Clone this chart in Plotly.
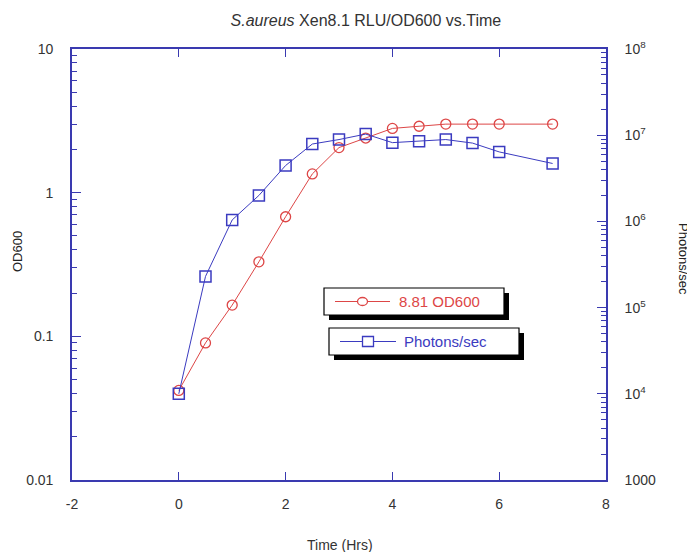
import plotly.graph_objects as go

# data
time_hrs = [0, 0.5, 1, 1.5, 2, 2.5, 3, 3.5, 4, 4.5, 5, 5.5, 6, 7]
od600 = [0.042, 0.09, 0.165, 0.33, 0.68, 1.35, 2.06, 2.4, 2.8, 2.9, 3.0, 3.0, 3.0, 3.0]
photons = [1.0e4, 2.3e5, 1.04e6, 2.0e6, 4.45e6, 7.9e6, 8.9e6, 1.03e7,
           8.2e6, 8.5e6, 8.9e6, 8.1e6, 6.4e6, 4.7e6]

x_ticks = [-2, 0, 2, 4, 6, 8]
x_ticktext = ["-2", "0", "2", "4", "6", "8"]
od_ticks = [0.01, 0.1, 1, 10]
od_ticktext = ["0.01", "0.1", "1", "10"]
ph_ticks = [1e3, 1e4, 1e5, 1e6, 1e7, 1e8]
ph_ticktext = ["1000", "10<sup>4</sup>", "10<sup>5</sup>", "10<sup>6</sup>",
               "10<sup>7</sup>", "10<sup>8</sup>"]

od_minor = [m * d for d in [0.01, 0.1, 1] for m in range(2, 10)]
ph_minor = [m * d for d in [1e3, 1e4, 1e5, 1e6, 1e7] for m in range(2, 10)]

RED = "#dd4646"
BLUE = "#3b3bc0"
AXIS = "#3a3ab0"
FONT = "Liberation Sans, Arial, sans-serif"

# page offset from the default body margin
O = 8
W, H = 695, 552
L, T = 64, 41
PW, PH = 534, 431
R, B = W - L - PW, H - T - PH


def fx(px):
    return (px - O - L) / PW


def fy(py):
    return (T + PH - (py - O)) / PH


fig = go.Figure()
fig.add_trace(go.Scatter(x=time_hrs, y=od600, mode="lines+markers", name="8.81 OD600",
                         line=dict(color=RED, width=1),
                         marker=dict(symbol="circle-open", size=10, color=RED, line=dict(width=1.3)),
                         yaxis="y"))
fig.add_trace(go.Scatter(x=time_hrs, y=photons, mode="lines+markers", name="Photons/sec",
                         line=dict(color=BLUE, width=1),
                         marker=dict(symbol="square-open", size=11, color=BLUE, line=dict(width=1.5)),
                         yaxis="y2"))

tick_font = dict(family=FONT, size=14, color="#333333")

fig.update_layout(
    width=W, height=H,
    margin=dict(l=L, r=R, t=T, b=B),
    paper_bgcolor="white", plot_bgcolor="white",
    showlegend=False,
    font=dict(family=FONT, color="#333333"),
    title=dict(text="<i>S.aureus</i> Xen8.1 RLU/OD600 vs.Time",
               x=fx(347), xanchor="center", y=1 - (20 - O) / H, yanchor="middle",
               font=dict(family=FONT, size=16, color="#333333")),
    xaxis=dict(range=[-2, 8], tickvals=x_ticks, ticktext=x_ticktext, ticks="inside", ticklen=8,
               tickwidth=1.2, tickcolor=AXIS, showline=True, linecolor=AXIS, linewidth=1.6,
               mirror="ticks", showgrid=False, zeroline=False, tickfont=tick_font,
               ticklabelstandoff=10),
    yaxis=dict(type="log", range=[-2, 1], tickvals=od_ticks, ticktext=od_ticktext,
               ticks="inside", ticklen=9, tickwidth=1.2, tickcolor=AXIS,
               minor=dict(tickmode="array", tickvals=od_minor, ticks="inside", ticklen=5,
                          tickwidth=1, tickcolor=AXIS),
               showline=True, linecolor=AXIS, linewidth=1.6, showgrid=False, zeroline=False,
               tickfont=tick_font, ticklabelstandoff=14),
    yaxis2=dict(type="log", range=[3, 8], overlaying="y", side="right",
                tickvals=ph_ticks, ticktext=ph_ticktext,
                ticks="inside", ticklen=9, tickwidth=1.2, tickcolor=AXIS,
                minor=dict(tickmode="array", tickvals=ph_minor, ticks="inside", ticklen=5,
                           tickwidth=1, tickcolor=AXIS),
                showline=True, linecolor=AXIS, linewidth=1.6, showgrid=False, zeroline=False,
                tickfont=tick_font, ticklabelstandoff=14),
)

# axis titles
fig.add_annotation(text="Time (Hrs)", xref="paper", yref="paper", x=fx(340), y=fy(545),
                   xanchor="center", yanchor="middle",
                   showarrow=False, font=dict(size=14, color="#333333"))
fig.add_annotation(text="OD600", xref="paper", yref="paper", x=fx(18), y=fy(252),
                   xanchor="center", yanchor="middle",
                   textangle=-90, showarrow=False, font=dict(size=13, color="#222222"))
fig.add_annotation(text="Photons/sec", xref="paper", yref="paper", x=fx(684), y=fy(259),
                   xanchor="center", yanchor="middle",
                   textangle=90, showarrow=False, font=dict(size=13, color="#222222"))

# two separate legend boxes with drop shadows
legend_items = [
    dict(box=(324, 288, 504, 315), line=(335, 390), name="8.81 OD600", color=RED, kind="circle",
         text_x=397),
    dict(box=(329, 328, 519, 355), line=(340, 396), name="Photons/sec", color=BLUE, kind="rect",
         text_x=402),
]
for it in legend_items:
    x0, y0, x1, y1 = it["box"]
    cy = (y0 + y1) / 2
    fig.add_shape(type="rect", xref="paper", yref="paper",
                  x0=fx(x0 + 5), x1=fx(x1 + 5), y0=fy(y0 + 5), y1=fy(y1 + 5),
                  fillcolor="black", line=dict(width=0), layer="above")
    fig.add_shape(type="rect", xref="paper", yref="paper",
                  x0=fx(x0), x1=fx(x1), y0=fy(y0), y1=fy(y1),
                  fillcolor="white", line=dict(color="black", width=1.2), layer="above")
    lx0, lx1 = it["line"]
    fig.add_shape(type="line", xref="paper", yref="paper",
                  x0=fx(lx0), x1=fx(lx1), y0=fy(cy), y1=fy(cy),
                  line=dict(color=it["color"], width=1), layer="above")
    mx = (lx0 + lx1) / 2
    hw, hh = (5, 4) if it["kind"] == "circle" else (5.5, 5)
    fig.add_shape(type=it["kind"], xref="paper", yref="paper",
                  x0=fx(mx - hw), x1=fx(mx + hw), y0=fy(cy - hh), y1=fy(cy + hh),
                  fillcolor="white", line=dict(color=it["color"], width=1.3), layer="above")
    fig.add_annotation(text=it["name"], xref="paper", yref="paper", x=fx(it["text_x"]), y=fy(cy),
                       xanchor="left", yanchor="middle", showarrow=False,
                       font=dict(size=15, color=it["color"]))

fig.write_html("out.html")
